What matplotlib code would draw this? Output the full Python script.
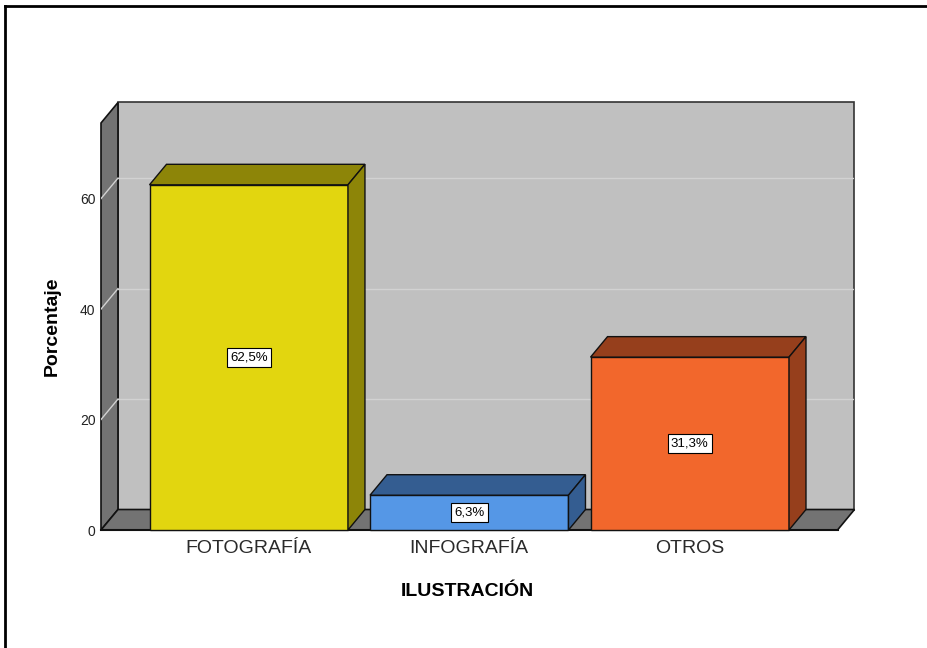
import matplotlib.pyplot as plt
from matplotlib.patches import Polygon, Rectangle
from matplotlib.lines import Line2D

plt.rcParams['font.family'] = ['Liberation Sans', 'DejaVu Sans']

categories = ['FOTOGRAFÍA', 'INFOGRAFÍA', 'OTROS']
percentages = [62.5, 6.3, 31.3]
bar_labels = ['62,5%', '6,3%', '31,3%']
front_colors = ['#e2d60f', '#5597e6', '#f2672c']
dark_colors = ['#8d8508', '#345d91', '#963f1c']
y_ticks = [0, 20, 40, 60]

# fake 3d geometry (data units)
XMIN, XMAX = -0.67, 2.67
DX, DY = 0.077, 3.71
YMAX = 77.4
BAR_W = 0.9
WALL = '#c0c0c0'
SIDE = '#737373'
GRID = '#d2d2d2'


def draw_box(ax, x, h, front, dark):
    x0, x1 = x - BAR_W / 2, x + BAR_W / 2
    ax.add_patch(Rectangle((x0, 0), BAR_W, h, fc=front, ec='#111', lw=1, zorder=3, clip_on=False))
    ax.add_patch(Polygon([(x0, h), (x1, h), (x1 + DX, h + DY), (x0 + DX, h + DY)],
                         closed=True, fc=dark, ec='#111', lw=1, zorder=3, clip_on=False))
    ax.add_patch(Polygon([(x1, 0), (x1 + DX, DY), (x1 + DX, h + DY), (x1, h)],
                         closed=True, fc=dark, ec='#111', lw=1, zorder=3, clip_on=False))


fig = plt.figure(figsize=(9.28, 6.48), dpi=100)
ax = fig.add_axes([101 / 928, 118 / 648, 753.5 / 928, 427.5 / 648])
ax.set_xlim(XMIN, XMAX + DX)
ax.set_ylim(0, YMAX)
for s in ax.spines.values():
    s.set_visible(False)

# walls and floor
ax.add_patch(Rectangle((XMIN + DX, DY), XMAX - XMIN, YMAX - DY, fc=WALL, ec='#333', lw=1.2,
                       zorder=1, clip_on=False))
ax.add_patch(Polygon([(XMIN, 0), (XMIN + DX, DY), (XMIN + DX, YMAX), (XMIN, YMAX - DY)],
                     closed=True, fc=SIDE, ec='#111', lw=1.2, zorder=1, clip_on=False))
ax.add_patch(Polygon([(XMIN, 0), (XMAX, 0), (XMAX + DX, DY), (XMIN + DX, DY)],
                     closed=True, fc=SIDE, ec='#111', lw=1.2, zorder=1, clip_on=False))
for t in y_ticks[1:]:
    ax.plot([XMIN + DX, XMAX + DX], [t + DY, t + DY], color=GRID, lw=1, zorder=2)
    ax.plot([XMIN, XMIN + DX], [t, t + DY], color=GRID, lw=1, zorder=2)
ax.plot([XMIN, XMAX], [0, 0], color='#111', lw=1.5, zorder=2, clip_on=False)

positions = list(range(len(categories)))
for x, h, fc, dc, lab in zip(positions, percentages, front_colors, dark_colors, bar_labels):
    draw_box(ax, x, h, fc, dc)
    ax.text(x, h / 2, lab, ha='center', va='center', fontsize=9.5, zorder=4,
            bbox=dict(boxstyle='square,pad=0.25', fc='white', ec='black', lw=0.8))

ax.set_xticks(positions)
ax.set_xticklabels(categories, fontsize=14, color='#2a2a2a')
ax.set_yticks(y_ticks)
ax.set_yticklabels([str(t) for t in y_ticks], fontsize=10, color='#222')
ax.tick_params(axis='x', length=0, pad=7)
ax.tick_params(axis='y', length=0, pad=4)

fig.text(52 / 928, 1 - 326 / 648, 'Porcentaje', rotation=90, ha='center', va='center',
         fontsize=14, fontweight='bold')
fig.text(467 / 928, 1 - 591 / 648, 'ILUSTRACIÓN', ha='center', va='center',
         fontsize=14, fontweight='bold')

# outer frame (top and left edges visible)
fig.add_artist(Line2D([5 / 928, 1], [1 - 6 / 648, 1 - 6 / 648], color='black', lw=2))
fig.add_artist(Line2D([5 / 928, 5 / 928], [0, 1 - 6 / 648], color='black', lw=2))

fig.savefig('out.png', dpi=100)
